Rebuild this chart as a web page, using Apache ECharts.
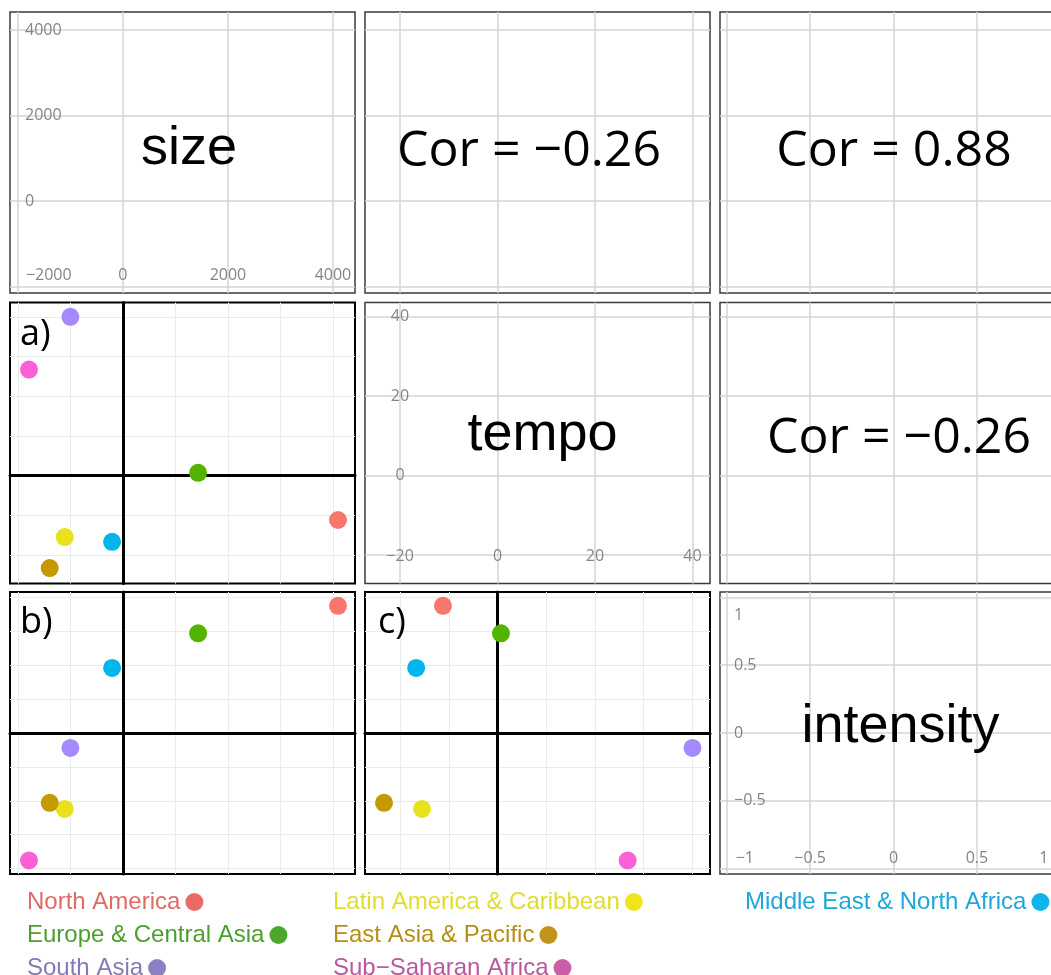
<!DOCTYPE html>
<html><head><meta charset="utf-8">
<script src="https://cdn.jsdelivr.net/npm/echarts@6/dist/echarts.min.js"></script>
<style>html,body{margin:0;padding:0;background:#fff}#c{width:1051px;height:975px}</style>
</head><body><div id="c"></div>
<script>
// ---------- data ----------
const regions = ['North America','Europe & Central Asia','South Asia','Latin America & Caribbean','East Asia & Pacific','Sub\u2212Saharan Africa','Middle East & North Africa'];
const sizeVals = [4096, 1432, -1000, -1107, -1394, -1788, -206];
const tempoVals = [-11.2, 0.7, 40.0, -15.5, -23.3, 26.7, -16.7];
const intensityVals = [0.938, 0.735, -0.11, -0.56, -0.515, -0.94, 0.48];
const variables = ['size', 'tempo', 'intensity'];
const corLabels = ['Cor = \u22120.26', 'Cor = 0.88', 'Cor = \u22120.26'];
const panelLetters = ['a)', 'b)', 'c)'];
const sizeMajor = [-2000, 0, 2000, 4000];
const tempoMajor = [-20, 0, 20, 40];
const intensityMajor = [-1, -0.5, 0, 0.5, 1];
const sizeMinor = [-2000, -1000, 0, 1000, 2000, 3000, 4000];
const tempoMinor = [-20, -10, 0, 10, 20, 30, 40];
const intensityMinor = [-1, -0.75, -0.5, -0.25, 0, 0.25, 0.5, 0.75, 1];
const sizeYLabels = [0, 2000, 4000];
const tempoYLabels = [0, 20, 40];
const intensityYLabels = [-0.5, 0, 0.5, 1];
const sizeRange = [-2150, 4420];
const tempoRange = [-27.2, 43.6];
const intensityRange = [-1.04, 1.04];

// ---------- styling ----------
const pointColors = ['#F8766D', '#53B400', '#A58AFF', '#E8E21C', '#C49A00', '#FB61D7', '#00B6EB'];
const legendTextColors = ['#E06A66', '#4C9F2C', '#8779B9', '#E2DC2E', '#B78E16', '#B9579F', '#1DA7DA'];
const legendIconColors = ['#E96B68', '#4DA72A', '#8C80C2', '#EFE51C', '#C2931B', '#C95DA6', '#11B3EC'];
// legend placement (column left, row centre)
const legendSlots = [[27, 899], [27, 932], [27, 965], [333, 899], [333, 932], [333, 965], [745, 899]];

const vals = [sizeVals, tempoVals, intensityVals];
const majors = [sizeMajor, tempoMajor, intensityMajor];
const minors = [sizeMinor, tempoMinor, intensityMinor];
const ranges = [sizeRange, tempoRange, intensityRange];
const yLabelVals = [sizeYLabels, tempoYLabels, intensityYLabels];

const cols = [{left: 10, width: 345}, {left: 365, width: 345}, {left: 720, width: 347}];
const rows = [{top: 12, height: 281}, {top: 302.5, height: 281}, {top: 592, height: 282}];

const tickFont = {fontFamily: 'Open Sans', fontSize: 16, color: '#858585'};
const fmt = v => (v < 0 ? '\u2212' : '') + Math.abs(v);

function diagX(k) {
  const base = Object.assign({show: true, inside: true, verticalAlign: 'middle', customValues: majors[k]}, tickFont);
  if (k === 0) {
    return Object.assign(base, {margin: 18, alignMinLabel: 'left',
      formatter: v => v === sizeMajor[0] ? '{pl|' + fmt(v) + '}' : fmt(v),
      rich: {pl: Object.assign({padding: [0, 0, 0, 8]}, tickFont)}});
  }
  if (k === 1) return Object.assign(base, {margin: 27, formatter: fmt});
  return Object.assign(base, {margin: 16, alignMinLabel: 'left', alignMaxLabel: 'right',
    formatter: v => v === intensityMajor[0] ? '{pl|' + fmt(v) + '}' : (v === intensityMajor[intensityMajor.length - 1] ? '{pr|' + fmt(v) + '}' : fmt(v)),
    rich: {pl: Object.assign({padding: [0, 0, 0, 9]}, tickFont), pr: Object.assign({padding: [0, 12, 0, 0]}, tickFont)}});
}
function diagY(k) {
  const base = Object.assign({show: true, inside: true, verticalAlign: 'middle', customValues: yLabelVals[k]}, tickFont);
  if (k === 0) return Object.assign(base, {margin: 15, align: 'left', formatter: fmt});
  if (k === 1) return Object.assign(base, {margin: 35, align: 'center', formatter: fmt});
  return Object.assign(base, {margin: 14, align: 'left',
    formatter: v => v === 1 ? '{pt|' + fmt(v) + '}' : fmt(v),
    rich: {pt: Object.assign({padding: [36, 0, 0, 0]}, tickFont)}});
}

const grids = [], xAxes = [], yAxes = [], series = [], graphics = [];
for (let r = 0; r < 3; r++) {
  for (let c = 0; c < 3; c++) {
    const g = r * 3 + c;
    const lower = c < r, diag = c === r;
    grids.push({left: cols[c].left, top: rows[r].top, width: cols[c].width, height: rows[r].height,
      show: true, backgroundColor: '#fff', borderColor: lower ? '#000' : '#3a3a3a', borderWidth: lower ? 2 : 1.5,
      containLabel: false, outerBoundsMode: 'none'});
    const split = {show: true, lineStyle: {color: lower ? '#EBEBEB' : '#D4D4D4', width: lower ? 1 : 1.5}};
    xAxes.push({type: 'value', gridIndex: g, min: ranges[c][0], max: ranges[c][1], position: 'bottom',
      axisTick: {show: false, customValues: lower ? minors[c] : majors[c]},
      splitLine: split,
      axisLine: lower ? {show: true, onZero: true, lineStyle: {color: '#000', width: 3}} : {show: false, onZero: false},
      axisLabel: diag ? diagX(c) : {show: false}});
    yAxes.push({type: 'value', gridIndex: g, min: ranges[r][0], max: ranges[r][1], position: 'left',
      axisTick: {show: false, customValues: lower ? minors[r] : majors[r]},
      splitLine: split,
      axisLine: lower ? {show: true, onZero: true, lineStyle: {color: '#000', width: 3}} : {show: false, onZero: false},
      axisLabel: diag ? diagY(r) : {show: false}});
    if (lower) {
      regions.forEach((name, i) => {
        series.push({type: 'scatter', name: name, xAxisIndex: g, yAxisIndex: g, symbolSize: 18, silent: true,
          itemStyle: {color: pointColors[i], opacity: 1}, z: 5,
          data: [[vals[c][i], vals[r][i]]]});
      });
    }
  }
}

// diagonal variable names
const diagPos = [[189, 149], [542.5, 435], [900.5, 727.6]];
variables.forEach((v, k) => graphics.push({type: 'text', x: diagPos[k][0], y: diagPos[k][1], z: 100,
  style: {text: v, font: '54px "Liberation Sans", Arial, sans-serif', fill: '#000', align: 'center', verticalAlign: 'middle'}}));
// correlation labels (upper panels)
const corPos = [[529, 151.5], [894, 151.5], [899, 439]];
corLabels.forEach((t, k) => graphics.push({type: 'text', x: corPos[k][0], y: corPos[k][1], z: 100,
  style: {text: t, font: '50px "Open Sans", sans-serif', fill: '#000', align: 'center', verticalAlign: 'middle'}}));
// panel letters
const letterPos = [[20, 335], [20, 623], [378, 623]];
panelLetters.forEach((t, k) => graphics.push({type: 'text', x: letterPos[k][0], y: letterPos[k][1], z: 100,
  style: {text: t, font: '36px "Open Sans", sans-serif', fill: '#000', align: 'left', verticalAlign: 'middle'}}));

const legendFont = {fontFamily: '"Liberation Sans", Arial, sans-serif', fontSize: 24, lineHeight: 18};
const legends = regions.map((name, i) => ({
  show: true, orient: 'horizontal', left: legendSlots[i][0], top: legendSlots[i][1] - 9, padding: 0,
  align: 'right', icon: 'circle', itemWidth: 18, itemHeight: 18, itemGap: 0, selectedMode: false,
  textStyle: Object.assign({color: legendTextColors[i]}, legendFont),
  data: [{name: name, icon: 'circle', itemStyle: {color: legendIconColors[i]},
    textStyle: Object.assign({color: legendTextColors[i]}, legendFont)}]
}));

const chart = echarts.init(document.getElementById('c'), null, {renderer: 'canvas'});
chart.setOption({
  animation: false,
  backgroundColor: '#fff',
  grid: grids, xAxis: xAxes, yAxis: yAxes, series: series,
  legend: legends,
  graphic: graphics
});
</script></body></html>
